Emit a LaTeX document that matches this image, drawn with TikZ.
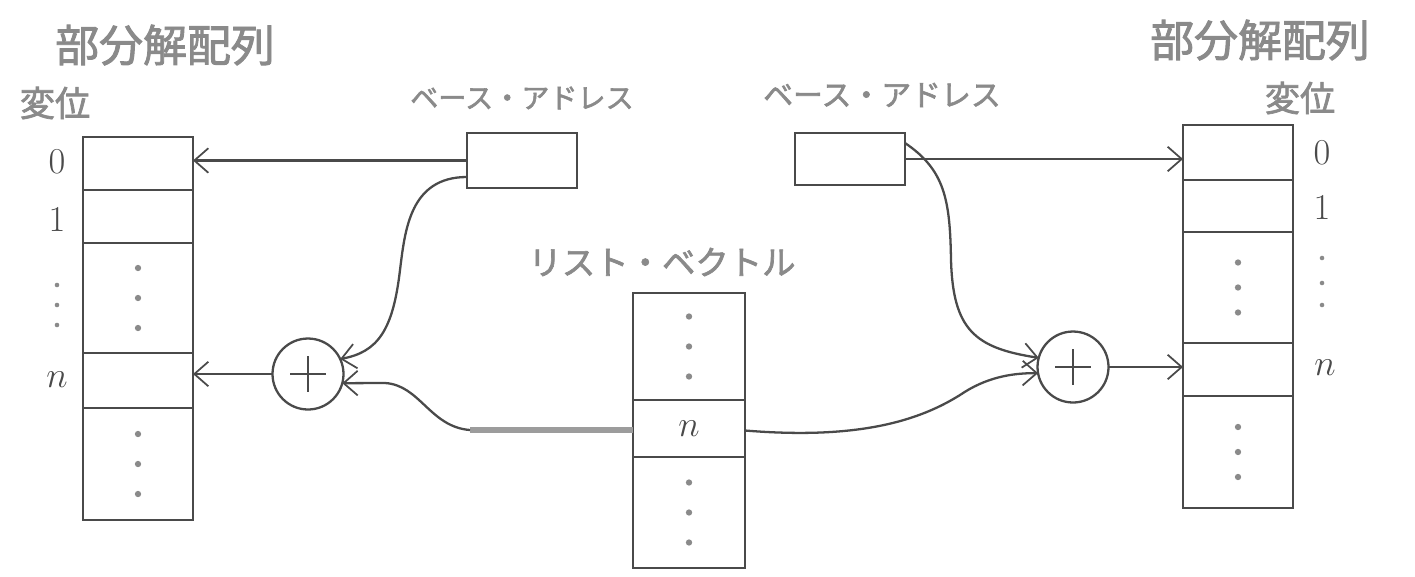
\documentclass[tikz,border=0pt]{standalone}
\usepackage{fontspec}
\newfontfamily\jp{Noto Sans CJK JP}[FakeBold=2]
\usetikzlibrary{arrows.meta,calc}
\definecolor{ink}{HTML}{4A4A4A}
\definecolor{pencil}{HTML}{8A8A8A}
\begin{document}
\begin{tikzpicture}[x=0.02cm,y=-0.02cm,
  pen/.style={draw=ink, line width=1.3pt},
  cell/.style={pen, minimum width=2.2cm, inner sep=0pt, outer sep=0pt, anchor=north},
  jlab/.style={text=pencil, inner sep=0pt, font=\jp\fontsize{#1pt}{#1pt}\selectfont},
  idx/.style={text=ink, inner sep=0pt, font=\fontsize{22pt}{24pt}\selectfont},
  link/.style={pen, -{Straight Barb[length=8pt,width=14pt,line width=1pt]}},
  adder/.style={pen, circle, minimum size=1.42cm, inner sep=0pt, outer sep=0pt},
  basebox/.style={pen, minimum width=2.2cm, inner sep=0pt, outer sep=0pt}]
\useasboundingbox (0,0) rectangle (1415,576);
\fill[white] (0,0) rectangle (1415,576);

% ---- left partial-solution array ----
\node[cell, minimum height=1.06cm] (L0) at (138,137) {};
\node[cell, minimum height=1.06cm] (L1) at (138,190) {};
\node[cell, minimum height=2.2cm]  (Ld) at (138,243) {};
\node[cell, minimum height=1.1cm]  (Ln) at (138,353) {};
\node[cell, minimum height=2.24cm] (Lr) at (138,408) {};

% ---- right partial-solution array ----
\node[cell, minimum height=1.1cm]  (R0) at (1238,125) {};
\node[cell, minimum height=1.04cm] (R1) at (1238,180) {};
\node[cell, minimum height=2.22cm] (Rd) at (1238,232) {};
\node[cell, minimum height=1.06cm] (Rn) at (1238,343) {};
\node[cell, minimum height=2.24cm] (Rr) at (1238,396) {};

% ---- list vector ----
\node[cell, minimum height=2.14cm, minimum width=2.24cm] (V1) at (689,293) {};
\node[cell, minimum height=1.14cm, minimum width=2.24cm, font=\fontsize{22pt}{24pt}\selectfont, text=ink] (Vn) at (689,400) {$n$};
\node[cell, minimum height=2.22cm, minimum width=2.24cm] (V2) at (689,457) {};

% ---- base address registers ----
\node[basebox, minimum height=1.1cm]  (BL) at (522,160.5) {};
\node[basebox, minimum height=1.04cm] (BR) at (850,159) {};

% ---- adders ----
\node[adder] (PL) at (308,374) {};
\node[adder] (PR) at (1073,367) {};
\foreach \p in {PL,PR}{
  \draw[pen] ($(\p.center)+(-18,0)$) -- ($(\p.center)+(18,0)$);
  \draw[pen] ($(\p.center)+(0,-18)$) -- ($(\p.center)+(0,18)$);
}

% ---- dots inside cells ----
\foreach \c/\s in {Ld/30, Lr/30, V1/30, V2/30, Rd/25, Rr/25}{
  \foreach \k in {-1,0,1}
    \fill[pencil] ($(\c.center)+(0,\k*\s)$) circle (1.8pt);
}

% ---- labels ----
\node[jlab=25] (tL)  at (165,45)  {部分解配列};
\node[jlab=20] (dL)  at (55,103)  {変位};
\node[jlab=16] (bLl) at (522,98)  {ベース・アドレス};
\node[jlab=17] (bRl) at (882,95)  {ベース・アドレス};
\node[jlab=19] (vl)  at (662,262) {リスト・ベクトル};
\node[jlab=25] (tR)  at (1260,40) {部分解配列};
\node[jlab=20] (dR)  at (1300,98) {変位};

% ---- offsets ----
\node[idx] (iL0) at (57,162) {$0$};
\node[idx] (iL1) at (57,220) {$1$};
\node[idx] (iLn) at (57,380) {$n$};
\node[idx] (iR0) at (1322,153) {$0$};
\node[idx] (iR1) at (1322,208) {$1$};
\node[idx] (iRn) at (1325,368) {$n$};
\foreach \y in {285,305,325} \fill[pencil] (57,\y) circle (1.3pt);
\foreach \y in {258,283,305} \fill[pencil] (1322,\y) circle (1.3pt);

% ---- connectors, left half ----
\draw[link] (BL.west) -- (BL.west -| L0.east);
\draw[link] ($(BL.south west)+(0,-11)$)
   .. controls (410,177) and (405,230) .. (400,270)
   .. controls (393,330) and (378,352) .. (PL.25);
\coordinate (kink) at (470,430);
\draw[draw=pencil!85, line width=3pt] (Vn.west |- kink) -- (kink);
\draw[link] (kink) .. controls (430,427) and (420,385) .. (385,383) -- (PL.-15);
\draw[link] (PL.west) -- (PL.west -| Ln.east);

% ---- connectors, right half ----
\draw[link] (BR.east) -- (BR.east -| R0.west);
\draw[link] ($(BR.north east)+(0,10)$)
   .. controls (945,170) and (950,200) .. (951,260)
   .. controls (953,330) and (975,348) .. (PR.165);
\draw[link] ($(Vn.east)+(0,2)$)
   .. controls (860,440) and (920,420) .. (960,395)
   .. controls (985,378) and (1010,373) .. (PR.190);
\draw[link] (PR.east) -- (PR.east -| Rn.west);
\end{tikzpicture}
\end{document}
